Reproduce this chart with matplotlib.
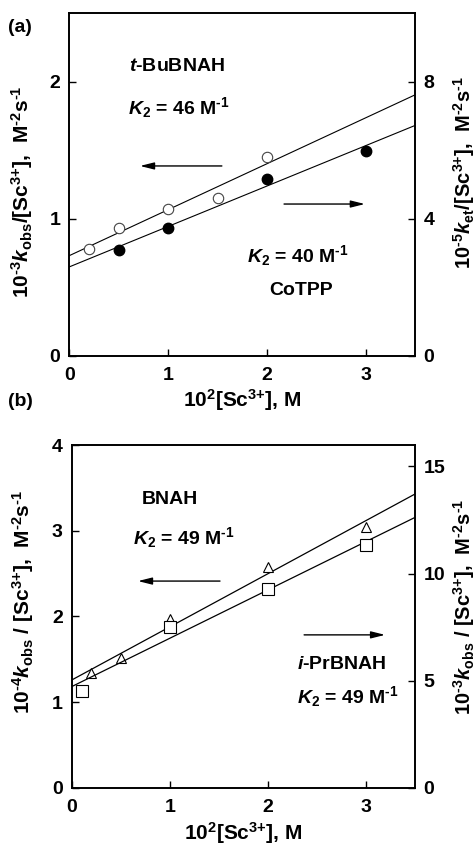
import matplotlib
matplotlib.use("Agg")
import matplotlib.pyplot as plt

FS = 14
LFS = 15
plt.rcParams.update({
    'font.family': ['Liberation Sans', 'DejaVu Sans'],
    'font.weight': 'bold',
    'font.size': FS,
    'mathtext.fontset': 'custom',
    'mathtext.rm': 'Liberation Sans:bold',
    'mathtext.it': 'Liberation Sans:italic:bold',
    'mathtext.bf': 'Liberation Sans:bold',
    'axes.linewidth': 1.2,
})

# ---- Panel (a) data ----
a_open_x = [0.2, 0.5, 1.0, 1.5, 2.0]          # t-BuBNAH (left axis)
a_open_y = [0.783, 0.933, 1.074, 1.154, 1.449]
a_fill_x = [0.5, 1.0, 2.0, 3.0]               # CoTPP (right axis)
a_fill_y = [3.10, 3.73, 5.17, 5.99]
fit_x = [0.0, 3.5]
a_open_fit = [0.732, 1.903]
a_fill_fit = [2.60, 6.72]

# ---- Panel (b) data ----
b_tri_x = [0.2, 0.5, 1.0, 2.0, 3.0]           # BNAH (left axis)
b_tri_y = [1.335, 1.517, 1.965, 2.58, 3.047]
b_sq_x = [0.1, 1.0, 2.0, 3.0]                 # i-PrBNAH (right axis)
b_sq_y = [4.51, 7.52, 9.28, 11.33]
b_tri_fit = [1.257, 3.428]
b_sq_fit = [4.72, 12.62]

a_left_ticks = [0, 1, 2]
a_right_ticks = [0, 4, 8]
b_left_ticks = [0, 1, 2, 3, 4]
b_right_ticks = [0, 5, 10, 15]
x_ticks = [0, 1, 2, 3]

SC = '[Sc$^{\\text{3+}}$]'
UNIT = 'M$^{\\text{-2}}$s$^{\\text{-1}}$'
XLAB = '10$^{\\text{2}}$' + SC + ', M'

fig = plt.figure(figsize=(4.77, 8.48), dpi=100)

def style(ax, twin):
    ax.tick_params(axis='both', direction='in', length=5, width=1.0, labelsize=FS)
    ax.tick_params(axis='x', pad=8)
    ax.tick_params(axis='y', pad=6.5)
    twin.tick_params(axis='y', direction='in', length=5, width=1.0, labelsize=FS, pad=6)
    for lab in ax.get_xticklabels() + ax.get_yticklabels() + twin.get_yticklabels():
        lab.set_fontweight('bold')

arrow = dict(arrowstyle='-|>,head_length=0.6,head_width=0.15', lw=1.0, color='black', shrinkA=0, shrinkB=0)

# Panel (a)
ax1 = fig.add_axes([0.1457, 0.5802, 0.7243, 0.4045])
ax1r = ax1.twinx()
ax1.plot(fit_x, a_open_fit, color='black', lw=0.8)
ax1.plot(a_open_x, a_open_y, 'o', ms=7.5, mfc='white', mec='#444444', mew=0.8)
ax1r.plot(fit_x, a_fill_fit, color='black', lw=0.8)
ax1r.plot(a_fill_x, a_fill_y, 'o', ms=7.5, color='black')
ax1.set_xlim(0, 3.5)
ax1.set_ylim(0, 2.5)
ax1r.set_ylim(0, 10)
ax1.set_xticks(x_ticks)
ax1.set_yticks(a_left_ticks)
ax1r.set_yticks(a_right_ticks)
style(ax1, ax1r)
ax1.set_xlabel(XLAB, fontsize=LFS, fontweight='bold', labelpad=2)
ax1.set_ylabel('10$^{\\text{-3}}$$k_{\\rm obs}$/' + SC + ',  ' + UNIT, fontsize=LFS, fontweight='bold')
ax1.yaxis.set_label_coords(-0.10, 0.478)
ax1r.set_ylabel('10$^{\\text{-5}}$$k_{\\rm et}$/' + SC + ',  ' + UNIT, fontsize=LFS - 0.5, fontweight='bold')
ax1r.yaxis.set_label_coords(1.104, 0.534)

ax1.text(0.172, 0.843, '$t$-BuBNAH', transform=ax1.transAxes, va='center', ha='left', fontsize=FS)
ax1.text(0.169, 0.723, '$K_{\\text{2}}$ = 46 M$^{\\text{-1}}$', transform=ax1.transAxes, va='center', ha='left', fontsize=FS)
ax1.text(0.514, 0.294, '$K_{\\text{2}}$ = 40 M$^{\\text{-1}}$', transform=ax1.transAxes, va='center', ha='left', fontsize=FS)
ax1.text(0.577, 0.192, 'CoTPP', transform=ax1.transAxes, va='center', ha='left', fontsize=FS)
ax1.annotate('', xy=(0.204, 0.554), xytext=(0.441, 0.554), xycoords='axes fraction', arrowprops=arrow)
ax1.annotate('', xy=(0.855, 0.443), xytext=(0.621, 0.443), xycoords='axes fraction', arrowprops=arrow)
fig.text(0.017, 0.968, '(a)', fontsize=FS, fontweight='bold', va='center', ha='left')

# Panel (b)
ax2 = fig.add_axes([0.1503, 0.0711, 0.7197, 0.4041])
ax2r = ax2.twinx()
ax2.plot(fit_x, b_tri_fit, color='black', lw=0.9)
ax2.plot(b_tri_x, b_tri_y, '^', ms=7.5, mfc='white', mec='black', mew=0.8)
ax2r.plot(fit_x, b_sq_fit, color='black', lw=0.9)
ax2r.plot(b_sq_x, b_sq_y, 's', ms=8.5, mfc='white', mec='black', mew=0.8)
ax2.set_xlim(0, 3.5)
ax2.set_ylim(0, 4)
ax2r.set_ylim(0, 16)
ax2.set_xticks(x_ticks)
ax2.set_yticks(b_left_ticks)
ax2r.set_yticks(b_right_ticks)
style(ax2, ax2r)
ax2.set_xlabel(XLAB, fontsize=LFS, fontweight='bold', labelpad=3)
ax2.set_ylabel('10$^{\\text{-4}}$$k_{\\rm obs}$ / ' + SC + ',  ' + UNIT, fontsize=LFS, fontweight='bold')
ax2.yaxis.set_label_coords(-0.104, 0.542)
ax2r.set_ylabel('10$^{\\text{-3}}$$k_{\\rm obs}$ / ' + SC + ',  ' + UNIT, fontsize=LFS - 0.5, fontweight='bold')
ax2r.yaxis.set_label_coords(1.105, 0.527)

ax2.text(0.205, 0.842, 'BNAH', transform=ax2.transAxes, va='center', ha='left', fontsize=FS)
ax2.text(0.179, 0.729, '$K_{\\text{2}}$ = 49 M$^{\\text{-1}}$', transform=ax2.transAxes, va='center', ha='left', fontsize=FS)
ax2.text(0.656, 0.361, '$i$-PrBNAH', transform=ax2.transAxes, va='center', ha='left', fontsize=FS)
ax2.text(0.656, 0.265, '$K_{\\text{2}}$ = 49 M$^{\\text{-1}}$', transform=ax2.transAxes, va='center', ha='left', fontsize=FS)
ax2.annotate('', xy=(0.193, 0.603), xytext=(0.432, 0.603), xycoords='axes fraction', arrowprops=arrow)
ax2.annotate('', xy=(0.913, 0.446), xytext=(0.677, 0.446), xycoords='axes fraction', arrowprops=arrow)
fig.text(0.017, 0.527, '(b)', fontsize=FS, fontweight='bold', va='center', ha='left')

fig.savefig('out.png', dpi=100)
